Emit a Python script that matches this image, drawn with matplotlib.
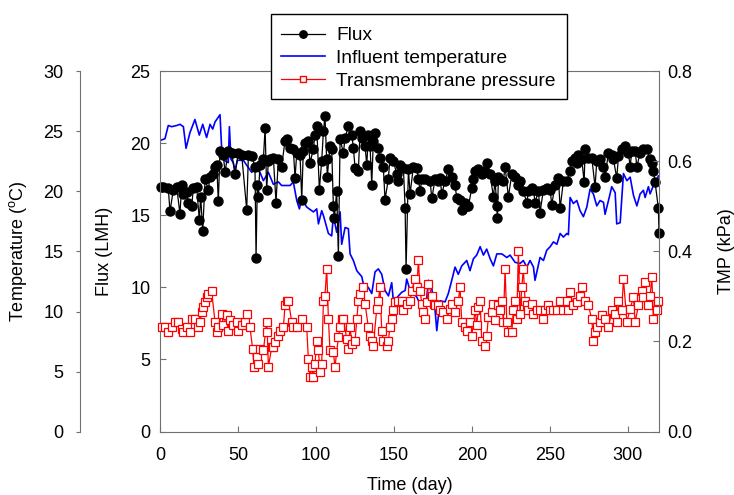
import matplotlib
matplotlib.use("Agg")
import matplotlib.pyplot as plt
from matplotlib.patches import Rectangle
from matplotlib.ticker import FormatStrFormatter

# ---- data ----
flux_day = [
    0.5, 2.1, 5.3, 6.4, 8.6, 10.7, 12.8, 13.9, 15.0, 17.1,
    18.2, 20.3, 21.4, 23.5, 25.2, 26.1, 27.4, 28.9, 31.0, 32.1,
    34.2, 35.3, 36.4, 37.4, 38.5, 40.6, 41.7, 43.8, 46.0, 48.1,
    50.2, 52.4, 55.6, 56.7, 58.8, 60.9, 61.6, 62.4, 63.1, 64.1,
    66.3, 67.4, 68.4, 69.5, 70.6, 72.7, 74.4, 75.9, 78.0, 80.2,
    81.3, 83.4, 85.5, 86.6, 87.7, 89.8, 90.9, 91.9, 93.0, 95.1,
    96.2, 98.3, 99.4, 100.5, 102.2, 103.7, 104.8, 105.8, 106.9, 107.3,
    109.0, 110.1, 111.2, 111.8, 113.3, 114.4, 115.5, 117.6, 118.7, 120.8,
    123.0, 124.0, 125.1, 127.2, 128.3, 129.4, 131.5, 132.6, 133.6, 134.7,
    135.8, 136.8, 137.9, 140.0, 141.1, 143.2, 144.3, 146.4, 147.5, 149.7,
    151.8, 152.9, 153.9, 156.1, 157.2, 157.8, 159.3, 160.4, 162.5, 164.7,
    165.7, 166.8, 167.9, 170.0, 173.2, 174.3, 176.4, 178.5, 179.6, 180.7,
    182.8, 184.9, 187.1, 189.2, 190.3, 192.4, 193.5, 195.6, 196.7, 197.8,
    199.9, 201.0, 202.1, 204.2, 206.3, 208.5, 209.5, 211.7, 213.8, 214.9,
    216.0, 216.4, 217.0, 220.2, 221.3, 223.4, 225.6, 227.7, 229.8, 230.9,
    233.0, 235.2, 236.3, 238.4, 239.5, 240.5, 242.7, 243.7, 245.9, 248.0,
    250.2, 251.2, 253.4, 255.5, 256.6, 258.7, 260.9, 263.0, 264.1, 266.2,
    267.3, 268.3, 270.5, 272.0, 272.6, 274.7, 276.9, 279.0, 280.1, 282.2,
    284.4, 285.4, 287.6, 289.7, 290.8, 292.9, 294.0, 296.1, 298.3, 300.4,
    301.5, 302.6, 304.7, 305.8, 307.9, 310.0, 312.2, 314.3, 315.4, 316.4,
    317.5, 319.6, 320.0,
]
flux = [
    17.0, 17.0, 16.9, 15.3, 16.8, 17.0, 15.1, 17.15, 16.5, 16.6,
    15.9, 15.65, 16.9, 17.0, 14.7, 16.3, 13.9, 17.5, 16.8, 17.7,
    17.85, 18.4, 18.5, 16.0, 19.5, 19.2, 18.0, 19.5, 19.35, 17.85,
    19.35, 19.2, 15.4, 19.2, 19.1, 18.4, 12.05, 17.15, 16.3, 18.5,
    18.9, 21.1, 16.8, 18.8, 18.9, 19.0, 15.9, 18.9, 18.4, 20.2,
    20.3, 19.7, 19.6, 17.6, 19.35, 19.2, 16.1, 19.5, 20.05, 20.2,
    18.65, 19.6, 20.6, 21.2, 16.8, 18.8, 20.85, 21.9, 18.9, 17.7,
    19.8, 19.6, 15.65, 14.8, 16.7, 12.2, 20.3, 19.35, 20.4, 21.2,
    20.6, 19.7, 18.3, 18.1, 20.85, 20.4, 19.8, 18.5, 20.6, 19.8,
    17.15, 20.2, 20.7, 19.7, 19.0, 18.4, 16.1, 17.5, 19.0, 18.8,
    17.85, 17.4, 18.5, 18.3, 15.5, 11.25, 18.2, 16.5, 18.4, 18.3,
    17.5, 16.7, 17.5, 17.5, 17.4, 16.2, 17.5, 17.4, 17.6, 16.5,
    17.4, 18.2, 17.7, 17.15, 16.2, 16.1, 15.4, 15.9, 15.65, 15.65,
    16.9, 17.5, 18.1, 18.2, 17.85, 18.1, 18.65, 17.85, 16.3, 17.4,
    15.65, 14.8, 17.7, 17.4, 18.4, 16.3, 17.85, 17.7, 17.15, 17.4,
    16.7, 15.9, 16.7, 16.9, 16.8, 15.9, 16.7, 15.2, 16.8, 16.9,
    16.8, 15.75, 17.15, 17.6, 15.5, 17.4, 17.4, 18.1, 18.8, 19.0,
    18.65, 19.2, 18.9, 17.3, 19.6, 19.0, 19.0, 17.0, 18.8, 18.9,
    18.4, 17.7, 19.35, 19.2, 18.9, 17.6, 19.1, 19.6, 19.8, 19.35,
    18.4, 19.5, 19.5, 18.4, 19.35, 19.6, 19.6, 18.9, 18.65, 18.1,
    17.3, 15.5, 13.8,
]

temp_day = [
    0.0, 3.2, 5.3, 7.5, 10.7, 12.8, 15.0, 16.7, 19.2, 22.4,
    25.2, 27.4, 29.9, 32.1, 33.8, 35.3, 38.5, 39.6, 41.1, 43.8,
    44.5, 45.5, 47.0, 48.1, 49.6, 53.4, 56.6, 58.8, 60.9, 64.1,
    66.3, 69.5, 72.7, 75.9, 78.0, 83.4, 85.5, 87.7, 89.4, 90.9,
    94.1, 98.4, 100.5, 101.6, 103.7, 104.8, 108.0, 110.1, 111.2, 113.3,
    115.5, 116.5, 118.7, 120.8, 121.9, 124.0, 126.2, 129.4, 130.4, 133.6,
    135.8, 137.9, 140.0, 142.2, 144.3, 146.5, 148.6, 149.7, 152.9, 155.0,
    157.2, 158.2, 160.4, 162.5, 164.7, 166.8, 168.9, 171.1, 172.1, 174.3,
    176.4, 177.5, 179.6, 182.8, 184.9, 187.1, 189.2, 191.3, 193.5, 196.7,
    198.8, 201.0, 203.1, 205.3, 207.4, 209.5, 211.7, 213.8, 216.0, 219.2,
    222.4, 224.5, 227.7, 230.9, 233.0, 235.2, 237.3, 239.5, 240.5, 243.7,
    245.9, 248.0, 250.2, 252.3, 254.5, 256.6, 258.7, 260.9, 261.9, 263.0,
    265.1, 267.3, 269.4, 271.5, 273.7, 275.8, 277.9, 280.1, 282.2, 284.4,
    285.4, 287.6, 289.7, 291.9, 292.9, 295.1, 297.2, 299.4, 301.5, 303.6,
    305.8, 307.9, 310.0, 311.1, 313.2, 314.3, 316.4, 318.6, 319.6,
]
temp = [
    24.25, 24.4, 25.5, 25.4, 25.5, 25.6, 25.4, 23.6, 24.9, 26.0,
    24.7, 25.6, 24.5, 25.6, 25.2, 25.8, 26.4, 23.4, 22.6, 22.4,
    25.4, 22.7, 22.4, 21.75, 22.6, 22.6, 22.0, 21.6, 21.9, 21.6,
    20.9, 21.6, 20.6, 20.8, 20.5, 20.5, 20.8, 19.25, 18.55, 19.4,
    18.7, 18.3, 18.55, 17.3, 18.4, 18.0, 16.5, 16.3, 18.0, 16.6,
    18.3, 15.6, 17.0, 16.9, 14.8, 14.25, 13.4, 12.9, 12.3, 12.0,
    11.5, 13.3, 13.55, 13.1, 11.75, 11.3, 12.4, 10.8, 11.3, 11.6,
    11.75, 12.7, 11.75, 11.5, 11.2, 10.6, 9.5, 11.2, 12.6, 11.9,
    10.1, 8.4, 10.9, 10.8, 11.5, 12.6, 13.7, 13.1, 13.8, 14.25,
    13.4, 14.4, 14.7, 15.4, 14.7, 15.2, 14.4, 13.8, 14.8, 14.8,
    14.5, 14.7, 14.1, 14.0, 14.25, 13.7, 14.25, 13.7, 12.6, 14.5,
    14.25, 15.1, 15.4, 15.8, 15.6, 16.5, 16.2, 16.5, 16.4, 19.5,
    19.0, 19.25, 18.4, 17.9, 18.7, 20.2, 19.8, 18.8, 19.25, 19.1,
    18.1, 19.25, 20.4, 19.9, 17.3, 17.4, 21.5, 20.9, 21.2, 19.7,
    18.8, 19.8, 20.1, 19.5, 20.4, 19.8, 20.5, 20.9, 21.3,
]

tmp_day = [
    1.1, 3.2, 5.3, 7.5, 9.6, 11.8, 13.9, 15.0, 17.1, 19.2,
    20.3, 22.4, 24.6, 25.7, 26.7, 27.8, 28.9, 29.9, 31.0, 33.1,
    35.3, 36.4, 37.4, 39.6, 40.6, 42.8, 43.8, 44.9, 47.0, 49.2,
    50.2, 52.4, 54.5, 55.6, 57.7, 59.4, 60.3, 62.0, 63.1, 64.1,
    66.3, 68.4, 68.8, 69.5, 71.6, 72.7, 73.8, 75.9, 77.0, 79.1,
    80.2, 81.3, 82.3, 84.5, 85.5, 87.7, 90.9, 94.1, 95.1, 96.2,
    97.2, 98.3, 99.4, 100.5, 101.6, 102.6, 103.7, 104.8, 105.8, 106.9,
    108.0, 109.0, 111.2, 112.2, 114.4, 115.5, 116.5, 117.6, 119.7, 120.8,
    121.9, 123.0, 125.1, 126.2, 127.2, 128.3, 130.4, 131.5, 133.6, 134.7,
    135.8, 136.8, 139.0, 140.0, 141.1, 142.2, 143.2, 145.4, 146.4, 147.5,
    148.6, 149.7, 150.7, 152.9, 155.0, 156.1, 158.2, 160.4, 161.4, 163.6,
    164.7, 165.7, 166.8, 167.9, 168.9, 170.0, 171.1, 172.1, 174.3, 175.4,
    176.4, 178.5, 179.6, 181.8, 183.9, 186.0, 187.1, 189.2, 191.3, 192.4,
    193.5, 195.6, 196.7, 198.8, 199.9, 202.1, 203.1, 204.2, 205.3, 206.3,
    208.5, 209.5, 210.6, 212.7, 213.8, 214.9, 217.0, 218.1, 219.2, 220.2,
    221.3, 222.4, 223.4, 225.6, 226.6, 227.7, 228.8, 229.8, 230.9, 232.0,
    233.0, 234.1, 235.2, 236.3, 238.4, 239.5, 241.6, 243.7, 245.9, 246.9,
    249.1, 250.2, 252.3, 254.5, 256.6, 258.7, 260.9, 261.9, 263.0, 265.1,
    267.3, 269.4, 270.5, 272.6, 274.7, 276.9, 277.9, 279.0, 280.1, 282.2,
    283.3, 285.4, 287.6, 289.7, 291.9, 292.9, 294.0, 296.1, 297.2, 299.4,
    301.5, 303.6, 304.7, 306.8, 309.0, 310.0, 311.1, 313.2, 314.3, 315.4,
    316.4, 318.6, 319.6,
]
tmp = [
    0.232, 0.232, 0.221, 0.232, 0.243, 0.243, 0.228, 0.221, 0.232, 0.221,
    0.25, 0.25, 0.232, 0.243, 0.265, 0.276, 0.287, 0.298, 0.306, 0.312,
    0.243, 0.221, 0.232, 0.262, 0.236, 0.258, 0.224, 0.247, 0.236, 0.243,
    0.224, 0.236, 0.243, 0.262, 0.232, 0.184, 0.143, 0.165, 0.15, 0.184,
    0.18, 0.243, 0.221, 0.143, 0.187, 0.187, 0.198, 0.213, 0.224, 0.232,
    0.28, 0.291, 0.291, 0.243, 0.232, 0.232, 0.25, 0.232, 0.162, 0.121,
    0.143, 0.121, 0.15, 0.202, 0.18, 0.132, 0.15, 0.291, 0.302, 0.362,
    0.25, 0.18, 0.176, 0.143, 0.21, 0.232, 0.25, 0.25, 0.206, 0.184,
    0.232, 0.195, 0.202, 0.25, 0.291, 0.306, 0.32, 0.284, 0.232, 0.213,
    0.202, 0.191, 0.273, 0.291, 0.32, 0.224, 0.202, 0.191, 0.202, 0.232,
    0.25, 0.269, 0.287, 0.291, 0.291, 0.269, 0.284, 0.291, 0.313, 0.339,
    0.32, 0.38, 0.313, 0.284, 0.265, 0.25, 0.287, 0.328, 0.302, 0.284,
    0.28, 0.28, 0.269, 0.265, 0.25, 0.273, 0.284, 0.265, 0.291, 0.32,
    0.243, 0.232, 0.224, 0.243, 0.213, 0.269, 0.236, 0.276, 0.291, 0.202,
    0.191, 0.213, 0.254, 0.265, 0.284, 0.247, 0.28, 0.269, 0.291, 0.243,
    0.362, 0.243, 0.221, 0.221, 0.269, 0.291, 0.25, 0.402, 0.262, 0.32,
    0.362, 0.291, 0.28, 0.269, 0.284, 0.262, 0.269, 0.269, 0.25, 0.269,
    0.28, 0.269, 0.269, 0.269, 0.291, 0.269, 0.291, 0.269, 0.31, 0.28,
    0.287, 0.302, 0.32, 0.291, 0.28, 0.25, 0.202, 0.221, 0.232, 0.243,
    0.258, 0.25, 0.232, 0.269, 0.262, 0.243, 0.291, 0.269, 0.339, 0.243,
    0.273, 0.298, 0.243, 0.28, 0.313, 0.298, 0.332, 0.28, 0.302, 0.343,
    0.25, 0.269, 0.291,
]

x_ticks = [0, 50, 100, 150, 200, 250, 300]
temp_ticks = [0, 5, 10, 15, 20, 25, 30]
flux_ticks = [0, 5, 10, 15, 20, 25]
tmp_ticks = [0.0, 0.2, 0.4, 0.6, 0.8]

plt.rcParams['font.family'] = ['Liberation Sans', 'DejaVu Sans']
plt.rcParams['mathtext.fontset'] = 'custom'
plt.rcParams['mathtext.rm'] = 'Liberation Sans'

FS = 13
SPINE = '#707070'

W, H = 734, 495
fig = plt.figure(figsize=(W / 100, H / 100), dpi=100)
ax = fig.add_axes([160 / W, 1 - 431.5 / H, 499 / W, 360 / H])

# temperature (outer left axis), also carries the x axis
ax.plot(temp_day, temp, color='#0000ff', lw=1.2)
ax.set_xlim(0, 320)
ax.set_ylim(0, 30)
ax.set_xticks(x_ticks)
ax.set_yticks(temp_ticks)
ax.spines['left'].set_position(('outward', 57.6))
ax.spines['right'].set_visible(False)
for s in ax.spines.values():
    s.set_color(SPINE)
ax.tick_params(axis='y', direction='out', length=3, pad=9, labelsize=FS, color=SPINE)
ax.tick_params(axis='x', direction='in', length=4, pad=11, labelsize=FS, color=SPINE)
ax.set_ylabel('Temperature ($^{\\mathrm{o}}$C)', fontsize=FS)
ax.yaxis.set_label_coords(-0.262, 0.5)
ax.set_xlabel('Time (day)', fontsize=FS)
ax.xaxis.set_label_coords(0.5, -0.125)

# flux (inner left axis)
ax_f = ax.twinx()
ax_f.yaxis.tick_left()
ax_f.yaxis.set_label_position('left')
ax_f.spines['left'].set_visible(True)
ax_f.spines['right'].set_visible(False)
ax_f.spines['top'].set_visible(False)
ax_f.spines['bottom'].set_visible(False)
ax_f.spines['left'].set_color(SPINE)
ax_f.plot(flux_day, flux, color='black', lw=0.9, marker='o', ms=6.5,
          mfc='black', mec='black', clip_on=False)
ax_f.set_ylim(0, 25)
ax_f.set_yticks(flux_ticks)
ax_f.tick_params(axis='y', direction='in', length=4, pad=7, labelsize=FS, color=SPINE)
ax_f.set_ylabel('Flux (LMH)', fontsize=FS)
ax_f.yaxis.set_label_coords(-0.094, 0.5)

# TMP (right axis)
ax_p = ax.twinx()
ax_p.spines['left'].set_visible(False)
ax_p.spines['top'].set_visible(False)
ax_p.spines['bottom'].set_visible(False)
ax_p.spines['right'].set_color(SPINE)
ax_p.plot(tmp_day, tmp, color='red', lw=0.9, marker='s', ms=6,
          mfc='white', mec='red', mew=0.9, clip_on=False)
ax_p.set_ylim(0, 0.8)
ax_p.set_yticks(tmp_ticks)
ax_p.yaxis.set_major_formatter(FormatStrFormatter('%.1f'))
ax_p.tick_params(axis='y', direction='in', length=4, pad=6, labelsize=FS, color=SPINE)
ax_p.set_ylabel('TMP (kPa)', fontsize=FS)
ax_p.yaxis.set_label_coords(1.118, 0.5)

# legend: box drawn separately so its padding can match the original
box = Rectangle((271 / W, 1 - 99 / H), 296 / W, 85 / H, transform=fig.transFigure,
                facecolor='white', edgecolor='black', lw=1.0, zorder=4)
fig.add_artist(box)

h_flux = plt.Line2D([], [], color='black', lw=0.9, marker='o', ms=6.5, mfc='black')
h_temp = plt.Line2D([], [], color='#0000ff', lw=1.2)
h_tmp = plt.Line2D([], [], color='red', lw=0.9, marker='s', ms=6, mfc='white', mec='red')
leg = fig.legend([h_flux, h_temp, h_tmp],
                 ['Flux', 'Influent temperature', 'Transmembrane pressure'],
                 loc='upper left', bbox_to_anchor=(280.5 / W, 1 - 27 / H),
                 fontsize=13.8, frameon=False, handlelength=2.3, handletextpad=0.6,
                 labelspacing=0.27, borderpad=0, borderaxespad=0,
                 markerscale=0.82, numpoints=1)
leg.set_zorder(5)

fig.savefig('out.png', dpi=100)
